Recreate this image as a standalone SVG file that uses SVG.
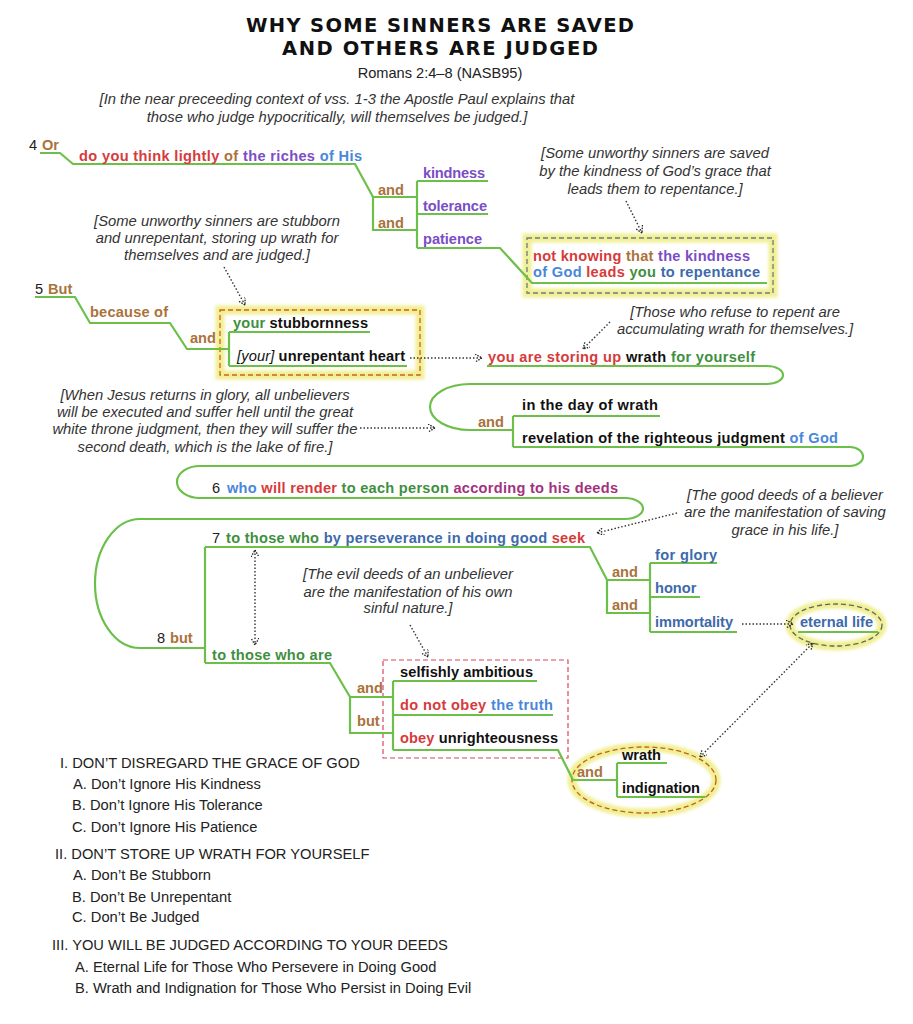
<svg xmlns="http://www.w3.org/2000/svg" width="913" height="1024" viewBox="0 0 913 1024">
<style>
.t{font-family:"Liberation Sans",Arial,sans-serif;font-weight:bold;font-size:14.6px}
.n{font-family:"Liberation Sans",Arial,sans-serif;font-weight:normal;font-size:14.6px;fill:#222}
.ann{font-family:"Liberation Sans",Arial,sans-serif;font-style:italic;font-size:14.8px;fill:#333;text-anchor:middle}
.ttl{font-family:"DejaVu Sans",Verdana,sans-serif;font-weight:bold;font-size:19.5px;fill:#111;text-anchor:middle}
.outl{font-family:"Liberation Sans",Arial,sans-serif;font-size:14.7px;fill:#222}
.r{fill:#d63b3b}.b{fill:#a9733b}.p{fill:#7b4dc6}.lb{fill:#4a87d9}.sb{fill:#3d6aab}.g{fill:#3f8f3f}.m{fill:#a3327e}.k{fill:#111}
.it{font-style:italic;font-weight:normal}
.ln{fill:none;stroke:#6cc04a;stroke-width:2.2}
.dot{fill:none;stroke:#333;stroke-width:1.4;stroke-dasharray:1.5 2;marker-end:url(#ah)}
.dot2{marker-start:url(#ah)}
.glow{fill:none;stroke:#eeeb78;stroke-width:9;opacity:0.8;filter:url(#blur)}
</style>
<defs>
<filter id="blur" x="-20%" y="-20%" width="140%" height="140%"><feGaussianBlur stdDeviation="1.8"/></filter>
<marker id="ah" markerUnits="userSpaceOnUse" markerWidth="12" markerHeight="12" refX="7" refY="4" orient="auto-start-reverse">
<path d="M0,0 L7,4 L0,8" fill="none" stroke="#222" stroke-width="1.3" stroke-dasharray="1.5 1.2"/>
</marker>
</defs>
<rect width="913" height="1024" fill="#fff"/>

<g id="title">
<text class="ttl" x="440" y="32" textLength="388" lengthAdjust="spacing">WHY SOME SINNERS ARE SAVED</text>
<text class="ttl" x="440" y="55" textLength="316" lengthAdjust="spacing">AND OTHERS ARE JUDGED</text>
<text class="n" x="440" y="78" text-anchor="middle">Romans 2:4–8 (NASB95)</text>
</g>

<g id="intro-note">
<text class="ann" x="337" y="104">[In the near preceeding context of vss. 1-3 the Apostle Paul explains that</text>
<text class="ann" x="337" y="122">those who judge hypocritically, will themselves be judged.]</text>
</g>

<g id="highlights">
<rect class="glow" x="527" y="238" width="246" height="55"/>
<rect x="527" y="238" width="246" height="55" fill="none" stroke="#6b7f86" stroke-width="1.3" stroke-dasharray="5 3"/>
<rect class="glow" x="220" y="310" width="200" height="65"/>
<rect x="220" y="310" width="200" height="65" fill="none" stroke="#d0602a" stroke-width="1.3" stroke-dasharray="5 3"/>
<rect x="383" y="660" width="185" height="98" fill="none" stroke="#d9475a" stroke-width="1.2" stroke-dasharray="5 3"/>
<ellipse class="glow" cx="836" cy="625" rx="46" ry="21"/>
<ellipse cx="836" cy="625" rx="46" ry="21" fill="none" stroke="#5a6a6a" stroke-width="1.3" stroke-dasharray="5 3"/>
<ellipse class="glow" cx="644" cy="780" rx="72" ry="33"/>
<ellipse cx="644" cy="780" rx="72" ry="33" fill="none" stroke="#c0602a" stroke-width="1.3" stroke-dasharray="5 3"/>
</g>

<g id="connectors">
<path class="ln" d="M40,153 H60 L73,164 H355 L373,197 H417 M373,197 V230 H417 M417,181 V248 M417,181 H488 M417,214 H488 M417,248 H500 L532,283 H767"/>
<path class="ln" d="M35,297 H75 L90,323 H170 L187,349 H229 M229,332 V366 M229,332 H370 M229,366 H407"/>
<path class="ln" d="M487,366 H767 A16,9 0 0 1 767,384 H470 A40,23 0 0 0 470,430 H513 M513,416 V447 M513,416 H660 M513,447 H850 A13,9.5 0 0 1 850,466 H200 A23,16 0 0 0 200,498 H625 A18,10.5 0 0 1 625,519 H140 A45,64.5 0 0 0 140,648 H205 M205,547 V663 M205,547 H590 L607,580 H650 M607,580 V613 H650 M650,563 V632 M650,563 H717 M650,597 H700 M650,632 H737 M798,632 H878 M205,663 H330 L350,697 H393 M350,697 V733 H393 M393,681 V750 M393,681 H537 M393,715 H553 M393,750 H558 L573,780 H617 M617,763 V797 M617,763 H667 M617,797 H705"/>
<path class="dot" d="M626,201 L642,233"/>
<path class="dot" d="M224,267 L245,305"/>
<path class="dot" d="M410,358 L482,358"/>
<path class="dot" d="M610,322 L583,349"/>
<path class="dot" d="M360,428 L435,428"/>
<path class="dot" d="M677,513 L597,533"/>
<path class="dot dot2" d="M255,550 L255,645"/>
<path class="dot" d="M410,625 L428,657"/>
<path class="dot" d="M742,624 L793,624"/>
<path class="dot dot2" d="M700,757 L813,643"/>
</g>

<g id="v4">
<text class="n" x="29" y="150">4</text>
<text class="t b" x="42" y="150">Or</text>
<text class="t" x="79" y="161" textLength="283" lengthAdjust="spacing"><tspan class="r">do you think lightly</tspan> <tspan class="b">of</tspan> <tspan class="p">the riches</tspan> <tspan class="lb">of His</tspan></text>
</g>
<g id="and-1"><text class="t b" x="378" y="195">and</text><text class="t b" x="378" y="228">and</text></g>
<g id="kindness"><text class="t p" x="423" y="178" textLength="62" lengthAdjust="spacing">kindness</text></g>
<g id="tolerance"><text class="t p" x="423" y="211" textLength="64" lengthAdjust="spacing">tolerance</text></g>
<g id="patience"><text class="t p" x="423" y="244" textLength="59" lengthAdjust="spacing">patience</text></g>
<g id="not-knowing">
<text class="t" x="533" y="261" textLength="217" lengthAdjust="spacing"><tspan class="r">not knowing</tspan> <tspan class="b">that</tspan> <tspan class="p">the kindness</tspan></text>
<text class="t" x="533" y="277" textLength="227" lengthAdjust="spacing"><tspan class="lb">of God</tspan> <tspan class="r">leads</tspan> <tspan class="g">you</tspan> <tspan class="sb">to repentance</tspan></text>
</g>
<g id="note-saved">
<text class="ann" x="655" y="158">[Some unworthy sinners are saved</text>
<text class="ann" x="655" y="176">by the kindness of God’s grace that</text>
<text class="ann" x="655" y="194">leads them to repentance.]</text>
</g>
<g id="note-stubborn">
<text class="ann" x="217" y="226">[Some unworthy sinners are stubborn</text>
<text class="ann" x="217" y="243">and unrepentant, storing up wrath for</text>
<text class="ann" x="217" y="260">themselves and are judged.]</text>
</g>

<g id="v5">
<text class="n" x="35" y="294">5</text>
<text class="t b" x="48" y="294">But</text>
<text class="t b" x="90" y="317" textLength="78" lengthAdjust="spacing">because of</text>
<text class="t b" x="190" y="343">and</text>
</g>
<g id="stubbornness"><text class="t" x="233" y="328" textLength="135" lengthAdjust="spacing"><tspan class="g">your</tspan> <tspan class="k">stubbornness</tspan></text></g>
<g id="unrepentant"><text class="t k" x="237" y="361" textLength="168" lengthAdjust="spacing"><tspan class="it">[your]</tspan> unrepentant heart</text></g>
<g id="storing"><text class="t" x="488" y="362" textLength="267" lengthAdjust="spacing"><tspan class="r">you are storing up</tspan> <tspan class="k">wrath</tspan> <tspan class="g">for yourself</tspan></text></g>
<g id="note-refuse">
<text class="ann" x="735" y="317">[Those who refuse to repent are</text>
<text class="ann" x="735" y="334">accumulating wrath for themselves.]</text>
</g>
<g id="and-2"><text class="t b" x="478" y="427">and</text></g>
<g id="day"><text class="t k" x="522" y="410" textLength="136" lengthAdjust="spacing">in the day of wrath</text></g>
<g id="revelation"><text class="t k" x="522" y="443" textLength="316" lengthAdjust="spacing">revelation of the righteous judgment <tspan class="lb">of God</tspan></text></g>
<g id="note-jesus">
<text class="ann" x="205" y="400">[When Jesus returns in glory, all unbelievers</text>
<text class="ann" x="205" y="417">will be executed and suffer hell until the great</text>
<text class="ann" x="205" y="434">white throne judgment, then they will suffer the</text>
<text class="ann" x="205" y="452">second death, which is the lake of fire.]</text>
</g>

<g id="v6">
<text class="n" x="212" y="493">6</text>
<text class="t" x="227" y="493" textLength="391" lengthAdjust="spacing"><tspan class="lb">who</tspan> <tspan class="r">will render</tspan> <tspan class="g">to each person</tspan> <tspan class="m">according to his deeds</tspan></text>
</g>
<g id="v7">
<text class="n" x="212" y="543">7</text>
<text class="t" x="226" y="543" textLength="359" lengthAdjust="spacing"><tspan class="g">to those who</tspan> <tspan class="sb">by perseverance in doing good</tspan> <tspan class="r">seek</tspan></text>
</g>
<g id="note-good">
<text class="ann" x="785" y="500">[The good deeds of a believer</text>
<text class="ann" x="785" y="517">are the manifestation of saving</text>
<text class="ann" x="785" y="535">grace in his life.]</text>
</g>
<g id="and-3"><text class="t b" x="612" y="577">and</text><text class="t b" x="612" y="610">and</text></g>
<g id="glory"><text class="t sb" x="655" y="560" textLength="62" lengthAdjust="spacing">for glory</text></g>
<g id="honor"><text class="t sb" x="655" y="593">honor</text></g>
<g id="immortality"><text class="t sb" x="655" y="627" textLength="78" lengthAdjust="spacing">immortality</text></g>
<g id="eternal-life"><text class="t sb" x="800" y="627" textLength="73" lengthAdjust="spacing">eternal life</text></g>

<g id="v8">
<text class="n" x="157" y="643">8</text>
<text class="t b" x="170" y="643">but</text>
<text class="t g" x="212" y="660" textLength="120" lengthAdjust="spacing">to those who are</text>
</g>
<g id="note-evil">
<text class="ann" x="408" y="579">[The evil deeds of an unbeliever</text>
<text class="ann" x="408" y="597">are the manifestation of his own</text>
<text class="ann" x="408" y="613">sinful nature.]</text>
</g>
<g id="and-4"><text class="t b" x="357" y="693">and</text><text class="t b" x="357" y="726">but</text></g>
<g id="selfish"><text class="t k" x="400" y="677" textLength="133" lengthAdjust="spacing">selfishly ambitious</text></g>
<g id="disobey"><text class="t" x="400" y="710" textLength="153" lengthAdjust="spacing"><tspan class="r">do not obey</tspan> <tspan class="lb">the truth</tspan></text></g>
<g id="unrighteous"><text class="t" x="400" y="743" textLength="158" lengthAdjust="spacing"><tspan class="r">obey</tspan> <tspan class="k">unrighteousness</tspan></text></g>
<g id="and-5"><text class="t b" x="577" y="777">and</text></g>
<g id="wrath"><text class="t k" x="622" y="760">wrath</text></g>
<g id="indignation"><text class="t k" x="622" y="793" textLength="78" lengthAdjust="spacing">indignation</text></g>

<g id="outline">
<text class="outl" x="60" y="768">I. DON’T DISREGARD THE GRACE OF GOD</text>
<text class="outl" x="73" y="789">A. Don’t Ignore His Kindness</text>
<text class="outl" x="72" y="810">B. Don’t Ignore His Tolerance</text>
<text class="outl" x="72" y="832">C. Don’t Ignore His Patience</text>
<text class="outl" x="55" y="859">II. DON’T STORE UP WRATH FOR YOURSELF</text>
<text class="outl" x="73" y="880">A. Don’t Be Stubborn</text>
<text class="outl" x="72" y="902">B. Don’t Be Unrepentant</text>
<text class="outl" x="72" y="922">C. Don’t Be Judged</text>
<text class="outl" x="52" y="950">III. YOU WILL BE JUDGED ACCORDING TO YOUR DEEDS</text>
<text class="outl" x="75" y="972">A. Eternal Life for Those Who Persevere in Doing Good</text>
<text class="outl" x="75" y="993">B. Wrath and Indignation for Those Who Persist in Doing Evil</text>
</g>
</svg>
